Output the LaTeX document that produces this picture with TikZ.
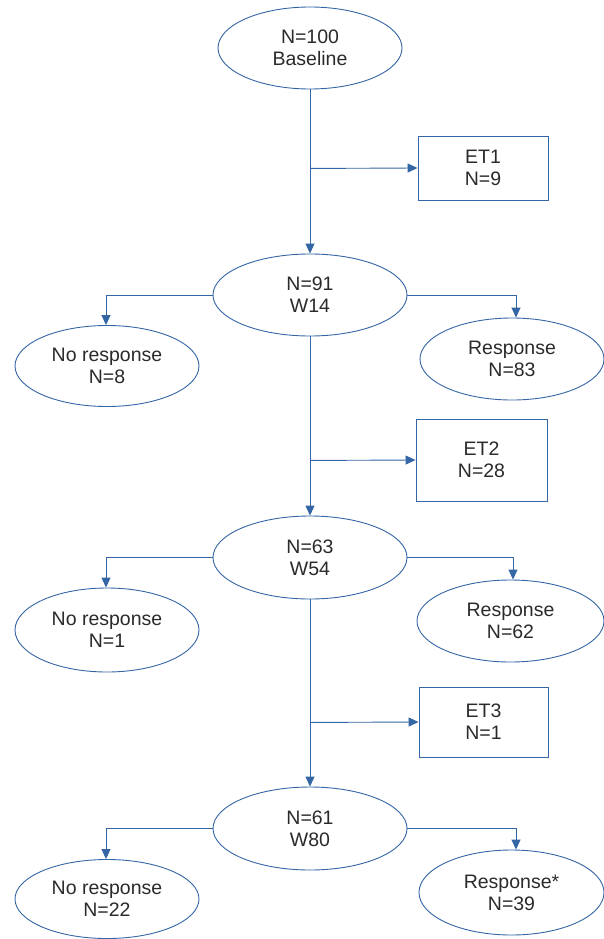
\documentclass[tikz,border=0pt]{standalone}
\usepackage{fontspec}
\setmainfont{Liberation Sans}
\usetikzlibrary{shapes.geometric,arrows.meta}
\definecolor{lineblue}{HTML}{3465A4}
\definecolor{txt}{HTML}{2A2A2A}
\begin{document}
\begin{tikzpicture}[x=1pt,y=-1pt,
  every node/.style={text=txt,align=center,font=\fontsize{19.5}{22}\selectfont,inner sep=0pt},
  ell/.style={ellipse,draw=lineblue,line width=0.9pt,minimum width=#1},
  ell/.default=194pt,
  bx/.style={rectangle,draw=lineblue,line width=0.9pt},
  conn/.style={draw=lineblue,line width=0.9pt,-{Triangle[length=10pt,width=9pt]}},
  plain/.style={draw=lineblue,line width=0.9pt}]
\useasboundingbox (0,0) rectangle (604,939);
% top
\node[ell=184pt,minimum height=82pt] (base) at (310,48) {N=100\\Baseline};
\node[bx,minimum width=130pt,minimum height=64pt] (et1) at (483,168) {ET1\\N=9};
\node[ell,minimum height=82pt] (n91) at (310,295) {N=91\\W14};
\node[ell=184pt,minimum height=81pt] (nr1) at (107,366) {No response\\N=8};
\node[ell=184pt,minimum height=82pt] (r1) at (512,359) {Response\\N=83};
\node[bx,minimum width=131pt,minimum height=82pt] (et2) at (481.5,460) {ET2\\N=28};
\node[ell,minimum height=83pt] (n63) at (310,557.5) {N=63\\W54};
\node[ell=184pt,minimum height=84pt] (nr2) at (107,630) {No response\\N=1};
\node[ell=187pt,minimum height=82pt] (r2) at (510.5,621) {Response\\N=62};
\node[bx,minimum width=129pt,minimum height=70pt] (et3) at (483.5,722) {ET3\\N=1};
\node[ell,minimum height=83pt] (n61) at (310,828.5) {N=61\\W80};
\node[ell=184pt,minimum height=79pt] (nr3) at (107,899) {No response\\N=22};
\node[ell=185pt,minimum height=85pt] (r3) at (511.5,892.5) {Response*\\N=39};
% spine
\path (base.south) ++(0,79) coordinate (j1);
\path (n91.south) ++(0,124) coordinate (j2);
\path (n63.south) ++(0,123) coordinate (j3);
\draw[conn] (base.south) -- (n91.north);
\draw[conn] (j1) -- (et1.west);
\draw[conn] (n91.south) -- (n63.north);
\draw[conn] (j2) -- (et2.west);
\draw[conn] (n63.south) -- (n61.north);
\draw[conn] (j3) -- (et3.west);
% branches
\draw[conn] (n91.west) -| ([xshift=-1pt]nr1.north);
\draw[conn] (n91.east) -| ([xshift=4pt]r1.north);
\draw[conn] (n63.west) -| ([xshift=-1pt]nr2.north);
\draw[conn] (n63.east) -| ([xshift=2.5pt]r2.north);
\draw[conn] (n61.west) -| ([xshift=-1pt]nr3.north);
\draw[conn] (n61.east) -| ([xshift=4.5pt]r3.north);
\end{tikzpicture}
\end{document}
